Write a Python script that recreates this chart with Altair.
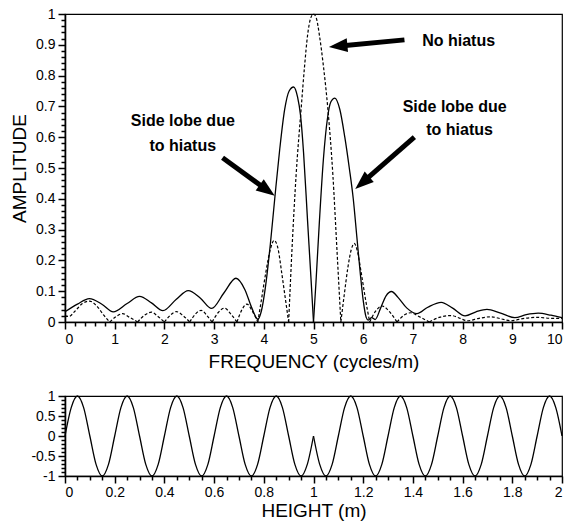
import math
import altair as alt
import pandas as pd

FONT = "Liberation Sans"

freq_hiatus = [0.0, 0.25, 0.49, 0.75, 0.97, 1.25, 1.50, 1.74, 1.97, 2.24, 2.48, 2.72,
               2.95, 3.20, 3.44, 3.62, 3.76, 3.88, 3.95, 4.03, 4.13, 4.22, 4.32, 4.42,
               4.51, 4.60, 4.68, 4.74, 4.80, 4.88, 4.95, 5.00, 5.05, 5.12, 5.20, 5.28,
               5.35, 5.43, 5.53, 5.63, 5.72, 5.80, 5.87, 5.94, 6.00, 6.06, 6.10, 6.17,
               6.24, 6.35, 6.46, 6.57, 6.70, 6.88, 7.08, 7.30, 7.57, 7.80, 8.05, 8.27,
               8.49, 8.75, 9.05, 9.28, 9.52, 9.78, 10.0]
amp_hiatus = [0.033, 0.058, 0.076, 0.057, 0.033, 0.060, 0.083, 0.062, 0.037, 0.074, 0.102, 0.078,
              0.044, 0.095, 0.142, 0.105, 0.045, 0.009, 0.035, 0.110, 0.250, 0.400, 0.560, 0.690,
              0.750, 0.763, 0.730, 0.670, 0.550, 0.330, 0.140, 0.0, 0.130, 0.330, 0.530, 0.660,
              0.715, 0.727, 0.690, 0.600, 0.500, 0.400, 0.280, 0.160, 0.070, 0.015, 0.006, 0.014,
              0.008, 0.045, 0.085, 0.099, 0.080, 0.045, 0.027, 0.048, 0.064, 0.045, 0.020, 0.033,
              0.041, 0.030, 0.014, 0.024, 0.029, 0.022, 0.014]

freq_nohiatus = [0.0, 0.08, 0.20, 0.35, 0.49, 0.65, 0.78, 0.90, 1.03, 1.16, 1.30, 1.46,
                 1.60, 1.74, 1.87, 2.00, 2.12, 2.24, 2.38, 2.51, 2.62, 2.74, 2.86, 2.96,
                 3.08, 3.21, 3.34, 3.46, 3.56, 3.66, 3.77, 3.88, 3.96, 4.04, 4.13, 4.21,
                 4.29, 4.36, 4.43, 4.50, 4.57, 4.65, 4.75, 4.82, 4.88, 4.94, 5.00, 5.06,
                 5.12, 5.20, 5.29, 5.39, 5.47, 5.55, 5.62, 5.69, 5.76, 5.82, 5.89, 5.96,
                 6.04, 6.13, 6.25, 6.38, 6.52, 6.68, 6.82, 6.96, 7.12, 7.33, 7.55, 7.77,
                 7.95, 8.10, 8.33, 8.57, 8.78, 8.97, 9.25, 9.52, 9.78, 10.0]
amp_nohiatus = [0.020, 0.018, 0.035, 0.060, 0.068, 0.050, 0.022, 0.0, 0.018, 0.027, 0.015, 0.0,
                0.022, 0.032, 0.018, 0.0, 0.022, 0.034, 0.020, 0.0, 0.025, 0.038, 0.020, 0.0,
                0.030, 0.045, 0.025, 0.0, 0.040, 0.058, 0.035, 0.0, 0.080, 0.160, 0.235, 0.265,
                0.235, 0.160, 0.080, 0.0, 0.245, 0.477, 0.690, 0.830, 0.930, 0.985, 1.0, 0.985,
                0.930, 0.830, 0.690, 0.477, 0.240, 0.0, 0.090, 0.175, 0.235, 0.255, 0.225, 0.160,
                0.080, 0.0, 0.035, 0.052, 0.035, 0.0, 0.022, 0.030, 0.018, 0.0, 0.016, 0.021,
                0.012, 0.004, 0.012, 0.017, 0.010, 0.004, 0.012, 0.015, 0.012, 0.012]

freq_ticks = [0, 1, 2, 3, 4, 5, 6, 7, 8, 9, 10]
amp_ticks = [0, 0.1, 0.2, 0.3, 0.4, 0.5, 0.6, 0.7, 0.8, 0.9, 1]
freq_minor = [round(i * 0.2, 1) for i in range(51) if i % 5]
amp_minor = [round(i * 0.02, 2) for i in range(51) if i % 5]

note_labels = ["No hiatus", "Side lobe due", "to hiatus", "Side lobe due", "to hiatus"]
note_freq = [7.92, 2.37, 2.37, 7.84, 7.94]
note_amp = [0.913, 0.651, 0.573, 0.697, 0.625]

arrow_tail_freq = [6.83, 3.17, 7.03]
arrow_tail_amp = [0.916, 0.533, 0.600]
arrow_tip_freq = [5.31, 4.22, 5.84]
arrow_tip_amp = [0.893, 0.410, 0.432]

height_m = [0.0, 0.025, 0.05, 0.075, 0.1, 0.125, 0.15, 0.175, 0.2, 0.225,
            0.25, 0.275, 0.3, 0.325, 0.35, 0.375, 0.4, 0.425, 0.45, 0.475,
            0.5, 0.525, 0.55, 0.575, 0.6, 0.625, 0.65, 0.675, 0.7, 0.725,
            0.75, 0.775, 0.8, 0.825, 0.85, 0.875, 0.9, 0.925, 0.95, 0.975,
            1.0, 1.025, 1.05, 1.075, 1.1, 1.125, 1.15, 1.175, 1.2, 1.225,
            1.25, 1.275, 1.3, 1.325, 1.35, 1.375, 1.4, 1.425, 1.45, 1.475,
            1.5, 1.525, 1.55, 1.575, 1.6, 1.625, 1.65, 1.675, 1.7, 1.725,
            1.75, 1.775, 1.8, 1.825, 1.85, 1.875, 1.9, 1.925, 1.95, 1.975, 2.0]
signal = [0, 0.71, 1, 0.71, 0, -0.71, -1, -0.71, 0, 0.71,
          1, 0.71, 0, -0.71, -1, -0.71, 0, 0.71, 1, 0.71,
          0, -0.71, -1, -0.71, 0, 0.71, 1, 0.71, 0, -0.71,
          -1, -0.71, 0, 0.71, 1, 0.71, 0, -0.71, -1, -0.71,
          0, -0.71, -1, -0.71, 0, 0.71, 1, 0.71, 0, -0.71,
          -1, -0.71, 0, 0.71, 1, 0.71, 0, -0.71, -1, -0.71,
          0, 0.71, 1, 0.71, 0, -0.71, -1, -0.71, 0, 0.71,
          1, 0.71, 0, -0.71, -1, -0.71, 0, 0.71, 1, 0.71, 0]
hiatus_at = 1.0

height_ticks = [0, 0.2, 0.4, 0.6, 0.8, 1, 1.2, 1.4, 1.6, 1.8, 2]
signal_ticks = [-1, -0.5, 0, 0.5, 1]
height_minor = [round(i * 0.05, 2) for i in range(41) if i % 4]
signal_minor = [round(-1 + i * 0.1, 1) for i in range(21) if i % 5]

W = 497
H_TOP = 308
H_BOT = 80
INK = "black"


def split_at_zeros(xs, ys, name):
    rows, seg, last = [], 0, len(xs) - 1
    for i, (x, y) in enumerate(zip(xs, ys)):
        rows.append({"f": x, "a": y, "seg": f"{name}{seg}"})
        if y == 0 and 0 < i < last:
            seg += 1
            rows.append({"f": x, "a": y, "seg": f"{name}{seg}"})
    return pd.DataFrame(rows)


df_solid = split_at_zeros(freq_hiatus, amp_hiatus, "s")
df_dash = split_at_zeros(freq_nohiatus, amp_nohiatus, "d")
df_notes = pd.DataFrame({"f": note_freq, "a": note_amp, "label": note_labels})

kx = W / 10.0
ky = H_TOP / 1.0
shaft_rows, head_rows = [], []
for i in range(len(arrow_tip_freq)):
    tx, ta = arrow_tail_freq[i], arrow_tail_amp[i]
    hx, ha = arrow_tip_freq[i], arrow_tip_amp[i]
    dxp = (hx - tx) * kx
    dyp = -(ha - ta) * ky
    L = math.hypot(dxp, dyp)
    back = 14.0
    ex = hx - (dxp / L) * back / kx
    ea = ha + (dyp / L) * back / ky
    shaft_rows.append({"f": tx, "a": ta, "arrow": i})
    shaft_rows.append({"f": ex, "a": ea, "arrow": i})
    ang = math.degrees(math.atan2(dxp, -dyp)) % 360
    head_rows.append({"f": hx, "a": ha, "ang": ang})
df_shaft = pd.DataFrame(shaft_rows)
df_head = pd.DataFrame(head_rows)

xs = alt.Scale(domain=[0, 10], nice=False, zero=False)
ys = alt.Scale(domain=[0, 1], nice=False, zero=False)

LABEL = "'' + datum.value"

major_x = alt.Axis(orient="bottom", values=freq_ticks, labelExpr=LABEL,
                   title="FREQUENCY (cycles/m)", ticks=True, tickSize=7, tickColor=INK,
                   labelPadding=3, titlePadding=6, domainWidth=1.6)
major_y = alt.Axis(orient="left", values=amp_ticks, labelExpr=LABEL,
                   title="AMPLITUDE", ticks=True, tickSize=7, tickColor=INK,
                   labelPadding=3, titlePadding=6, domainWidth=1.6)
minor_x = alt.Axis(orient="bottom", values=freq_minor, labels=False, domain=False,
                   ticks=True, tickSize=4, tickColor=INK, title="")
minor_y = alt.Axis(orient="left", values=amp_minor, labels=False, domain=False,
                   ticks=True, tickSize=4, tickColor=INK, title="")

solid = alt.Chart(df_solid).mark_line(
    interpolate="monotone", color="black", strokeWidth=1.3
).encode(
    x=alt.X("f:Q", scale=xs, axis=major_x),
    y=alt.Y("a:Q", scale=ys, axis=major_y),
    detail="seg:N",
)
dashed = alt.Chart(df_dash).mark_line(
    interpolate="monotone", color="black", strokeWidth=1.2, strokeDash=[3, 2]
).encode(
    x=alt.X("f:Q", scale=xs, axis=None),
    y=alt.Y("a:Q", scale=ys, axis=None),
    detail="seg:N",
)
minor_top = alt.Chart(df_solid).mark_line(opacity=0).encode(
    x=alt.X("f:Q", scale=xs, axis=minor_x),
    y=alt.Y("a:Q", scale=ys, axis=minor_y),
    detail="seg:N",
)
notes = alt.Chart(df_notes).mark_text(
    font=FONT, fontSize=16, fontWeight="bold", color="black"
).encode(
    x=alt.X("f:Q", scale=xs, axis=None),
    y=alt.Y("a:Q", scale=ys, axis=None),
    text="label:N",
)
shafts = alt.Chart(df_shaft).mark_line(
    color="black", strokeWidth=5, strokeCap="butt"
).encode(
    x=alt.X("f:Q", scale=xs, axis=None),
    y=alt.Y("a:Q", scale=ys, axis=None),
    detail="arrow:N",
)
heads = alt.Chart(df_head).mark_point(
    shape="M0,0L0.65,1.75L-0.65,1.75Z", size=450, filled=True,
    color="black", opacity=1, strokeWidth=0
).encode(
    x=alt.X("f:Q", scale=xs, axis=None),
    y=alt.Y("a:Q", scale=ys, axis=None),
    angle=alt.Angle("ang:Q", scale=None),
)

top = alt.layer(minor_top, solid, dashed, shafts, heads, notes).resolve_axis(
    x="independent", y="independent"
).properties(width=W, height=H_TOP)

bot_rows = []
for h, s in zip(height_m, signal):
    if h <= hiatus_at:
        bot_rows.append({"h": h, "s": s, "seg": "a"})
    if h >= hiatus_at:
        bot_rows.append({"h": h, "s": s, "seg": "b"})
df_bot = pd.DataFrame(bot_rows)

hx_scale = alt.Scale(domain=[0, 2], nice=False, zero=False)
sy_scale = alt.Scale(domain=[-1, 1], nice=False, zero=False)

bmajor_x = alt.Axis(orient="bottom", values=height_ticks, labelExpr=LABEL,
                    title="HEIGHT (m)", ticks=True, tickSize=7, tickColor=INK,
                    labelPadding=2, titlePadding=2, domainWidth=1.6)
bmajor_y = alt.Axis(orient="left", values=signal_ticks, labelExpr=LABEL,
                    title="", ticks=True, tickSize=7, tickColor=INK,
                    labelPadding=3, domainWidth=1.6)
bminor_x = alt.Axis(orient="bottom", values=height_minor, labels=False, domain=False,
                    ticks=True, tickSize=4, tickColor=INK, title="")
bminor_y = alt.Axis(orient="left", values=signal_minor, labels=False, domain=False,
                    ticks=True, tickSize=4, tickColor=INK, title="")

sig_line = alt.Chart(df_bot).mark_line(
    interpolate="monotone", color="black", strokeWidth=1.3
).encode(
    x=alt.X("h:Q", scale=hx_scale, axis=bmajor_x),
    y=alt.Y("s:Q", scale=sy_scale, axis=bmajor_y),
    detail="seg:N",
)
sig_minor = alt.Chart(df_bot).mark_line(opacity=0).encode(
    x=alt.X("h:Q", scale=hx_scale, axis=bminor_x),
    y=alt.Y("s:Q", scale=sy_scale, axis=bminor_y),
    detail="seg:N",
)
bottom = alt.layer(sig_minor, sig_line).resolve_axis(
    x="independent", y="independent"
).properties(width=W, height=H_BOT)

chart = alt.vconcat(top, bottom, spacing=16).properties(
    padding={"left": 9, "top": 6, "right": 0, "bottom": 1},
    background="white",
).configure_view(
    stroke="black", strokeWidth=1.2
).configure_axis(
    labelFont=FONT, titleFont=FONT, labelFontSize=14, titleFontSize=19,
    titleFontWeight="normal", labelColor="black", titleColor="black",
    domainColor="black", grid=False, tickWidth=1.5,
)

chart.save("out.html", embed_options={"renderer": "svg", "actions": False})
